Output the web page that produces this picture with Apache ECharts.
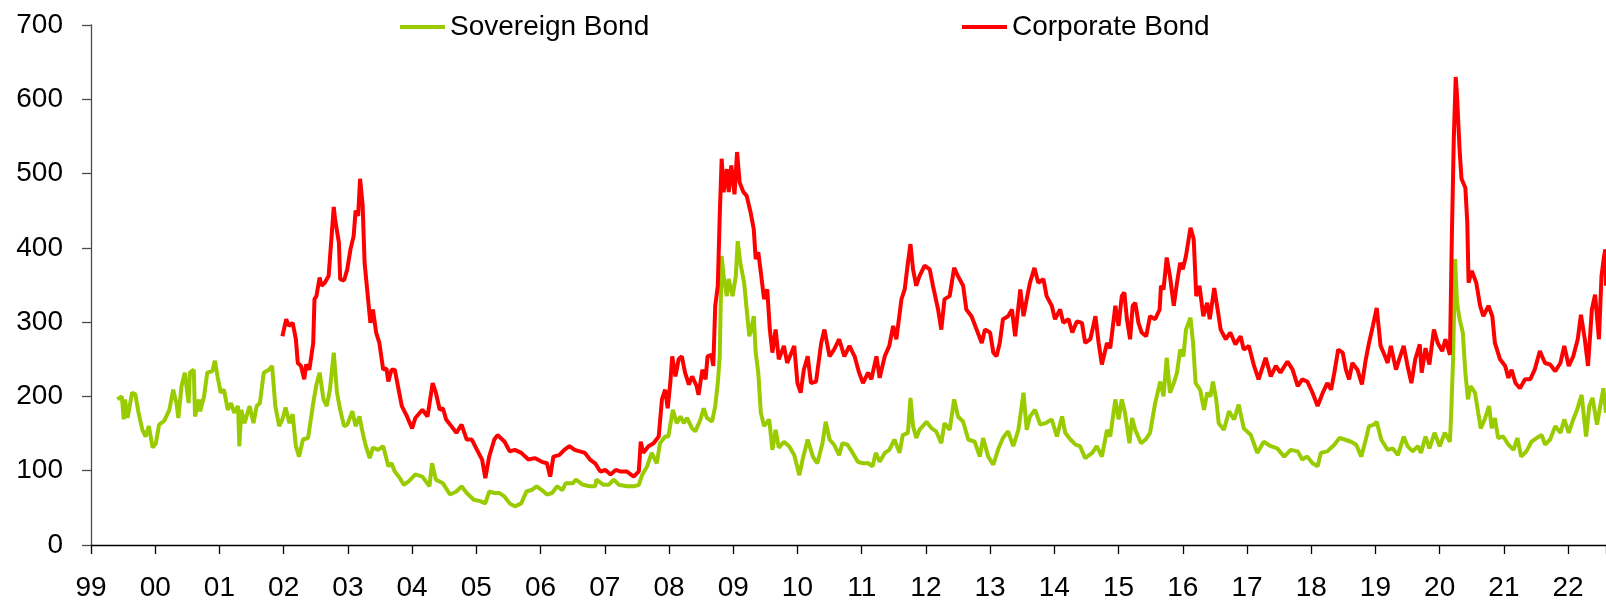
<!DOCTYPE html>
<html>
<head>
<meta charset="utf-8">
<script src="https://cdn.jsdelivr.net/npm/echarts@6/dist/echarts.min.js"></script>
<style>
  html, body { margin: 0; padding: 0; background: #fff; }
  #main { width: 1606px; height: 600px; }
</style>
</head>
<body>
<div id="main"></div>
<script>
// series names
var seriesNames = ["Sovereign Bond", "Corporate Bond"];

// [year, spread]
var sovereign = [
  [1999.41,196],[1999.48,200],[1999.51,169],[1999.53,196],[1999.57,171],[1999.64,205],[1999.69,203],[1999.74,178],
  [1999.80,155],[1999.85,146],[1999.90,160],[1999.96,131],[2000.01,137],[2000.06,162],[2000.14,167],[2000.22,182],
  [2000.28,209],[2000.33,191],[2000.36,171],[2000.41,214],[2000.46,232],[2000.52,191],[2000.54,232],[2000.60,236],
  [2000.62,173],[2000.68,196],[2000.70,180],[2000.76,200],[2000.81,232],[2000.89,234],[2000.93,248],[2000.97,227],
  [2001.02,205],[2001.07,209],[2001.13,182],[2001.18,191],[2001.23,178],[2001.29,187],[2001.31,133],[2001.34,182],
  [2001.39,164],[2001.47,187],[2001.53,164],[2001.58,187],[2001.63,191],[2001.69,232],[2001.77,236],[2001.82,241],
  [2001.87,187],[2001.93,160],[2001.98,169],[2002.03,185],[2002.09,164],[2002.14,176],[2002.19,133],[2002.24,119],
  [2002.30,142],[2002.38,144],[2002.46,191],[2002.51,216],[2002.56,232],[2002.62,196],[2002.67,187],[2002.72,209],
  [2002.78,259],[2002.83,205],[2002.88,182],[2002.94,160],[2002.99,162],[2003.07,180],[2003.12,160],[2003.18,173],
  [2003.23,151],[2003.28,133],[2003.34,117],[2003.39,131],[2003.47,128],[2003.55,133],[2003.63,106],[2003.68,110],
  [2003.73,99],[2003.81,90],[2003.87,81],[2003.95,86],[2004.05,95],[2004.16,92],[2004.27,79],[2004.31,110],
  [2004.37,88],[2004.48,83],[2004.59,68],[2004.69,72],[2004.77,79],[2004.85,70],[2004.96,61],[2005.06,59],
  [2005.14,56],[2005.20,72],[2005.28,70],[2005.36,70],[2005.44,65],[2005.52,56],[2005.60,52],[2005.70,56],
  [2005.78,72],[2005.86,74],[2005.94,79],[2006.02,74],[2006.10,68],[2006.18,70],[2006.26,79],[2006.34,74],
  [2006.39,83],[2006.50,83],[2006.55,88],[2006.66,81],[2006.77,79],[2006.85,79],[2006.87,88],[2006.98,81],
  [2007.06,81],[2007.14,88],[2007.22,81],[2007.34,79],[2007.45,79],[2007.53,81],[2007.58,94],[2007.66,106],
  [2007.73,124],[2007.81,110],[2007.86,137],[2007.94,146],[2007.99,146],[2008.06,182],[2008.12,164],[2008.18,173],
  [2008.23,164],[2008.28,171],[2008.36,157],[2008.41,153],[2008.49,169],[2008.54,184],[2008.59,171],[2008.67,166],
  [2008.72,187],[2008.76,218],[2008.79,254],[2008.82,389],[2008.85,362],[2008.90,335],[2008.93,358],[2008.99,335],
  [2009.04,362],[2009.07,409],[2009.11,380],[2009.17,353],[2009.21,317],[2009.25,281],[2009.28,290],[2009.32,308],
  [2009.35,259],[2009.39,232],[2009.43,178],[2009.48,160],[2009.56,169],[2009.61,128],[2009.66,155],[2009.71,131],
  [2009.79,139],[2009.87,133],[2009.95,121],[2010.03,94],[2010.08,115],[2010.16,142],[2010.24,119],[2010.31,110],
  [2010.39,137],[2010.44,166],[2010.50,142],[2010.57,135],[2010.65,121],[2010.70,137],[2010.78,135],[2010.86,124],
  [2010.94,112],[2011.02,110],[2011.10,110],[2011.17,106],[2011.22,124],[2011.28,112],[2011.36,124],[2011.43,128],
  [2011.51,142],[2011.59,124],[2011.64,148],[2011.72,151],[2011.76,198],[2011.80,160],[2011.85,144],[2011.90,155],
  [2012.01,166],[2012.09,157],[2012.16,153],[2012.24,137],[2012.29,164],[2012.37,155],[2012.44,196],[2012.50,173],
  [2012.58,166],[2012.66,142],[2012.76,139],[2012.84,119],[2012.89,144],[2012.97,119],[2013.05,108],[2013.13,130],
  [2013.20,144],[2013.28,153],[2013.36,133],[2013.44,155],[2013.52,205],[2013.57,155],[2013.62,173],[2013.70,182],
  [2013.78,162],[2013.86,164],[2013.96,169],[2014.04,146],[2014.12,173],[2014.17,151],[2014.25,142],[2014.33,135],
  [2014.40,133],[2014.48,117],[2014.59,124],[2014.66,133],[2014.74,119],[2014.82,155],[2014.87,146],[2014.95,196],
  [2015.00,169],[2015.05,196],[2015.10,178],[2015.17,137],[2015.21,171],[2015.26,155],[2015.35,137],[2015.42,142],
  [2015.49,151],[2015.57,191],[2015.65,220],[2015.70,200],[2015.75,252],[2015.80,205],[2015.86,218],[2015.91,232],
  [2015.96,263],[2016.01,254],[2016.05,290],[2016.12,306],[2016.16,272],[2016.20,218],[2016.27,209],[2016.33,182],
  [2016.38,205],[2016.43,200],[2016.47,220],[2016.52,196],[2016.56,164],[2016.64,155],[2016.72,180],[2016.80,169],
  [2016.87,189],[2016.95,157],[2017.06,148],[2017.16,124],[2017.26,139],[2017.37,133],[2017.47,130],[2017.58,119],
  [2017.68,128],[2017.79,126],[2017.86,115],[2017.94,119],[2018.02,110],[2018.10,106],[2018.15,124],[2018.25,126],
  [2018.36,135],[2018.44,144],[2018.52,142],[2018.62,139],[2018.70,135],[2018.78,119],[2018.85,142],[2018.90,160],
  [2018.98,162],[2019.02,166],[2019.09,142],[2019.19,128],[2019.27,130],[2019.35,121],[2019.44,146],[2019.50,133],
  [2019.58,126],[2019.66,133],[2019.71,124],[2019.78,146],[2019.84,130],[2019.92,151],[2020.00,133],[2020.08,151],
  [2020.16,139],[2020.18,178],[2020.21,254],[2020.24,385],[2020.27,326],[2020.31,304],[2020.36,286],[2020.40,232],
  [2020.44,196],[2020.48,214],[2020.55,205],[2020.60,178],[2020.64,157],[2020.70,169],[2020.77,187],[2020.81,157],
  [2020.86,171],[2020.91,144],[2020.99,146],[2021.07,135],[2021.15,128],[2021.21,144],[2021.27,119],[2021.35,126],
  [2021.43,139],[2021.51,144],[2021.59,148],[2021.64,135],[2021.72,142],[2021.80,160],[2021.88,151],[2021.94,169],
  [2022.01,151],[2022.08,169],[2022.14,182],[2022.21,202],[2022.28,146],[2022.33,187],[2022.38,198],[2022.45,162],
  [2022.50,187],[2022.55,211],[2022.59,178]
];

var corporate = [
  [2001.98,281],[2002.01,283],[2002.04,304],[2002.08,295],[2002.14,299],[2002.19,277],[2002.22,245],[2002.27,241],
  [2002.32,223],[2002.35,243],[2002.40,236],[2002.46,272],[2002.48,331],[2002.51,335],[2002.56,360],[2002.59,349],
  [2002.64,353],[2002.70,362],[2002.72,385],[2002.78,455],[2002.80,439],[2002.86,407],[2002.88,358],[2002.94,356],
  [2002.99,371],[2003.04,398],[2003.09,416],[2003.12,450],[2003.16,443],[2003.19,493],[2003.23,457],[2003.26,380],
  [2003.31,335],[2003.35,299],[2003.39,317],[2003.44,286],[2003.49,272],[2003.55,236],[2003.60,238],[2003.63,220],
  [2003.68,236],[2003.73,236],[2003.79,209],[2003.84,187],[2003.92,173],[2004.00,157],[2004.05,171],[2004.16,182],
  [2004.24,173],[2004.32,218],[2004.37,205],[2004.43,182],[2004.48,184],[2004.53,169],[2004.61,160],[2004.69,151],
  [2004.77,162],[2004.85,142],[2004.93,142],[2005.01,128],[2005.09,115],[2005.14,90],[2005.20,119],[2005.28,142],
  [2005.33,148],[2005.44,139],[2005.52,126],[2005.60,128],[2005.70,124],[2005.81,115],[2005.91,117],[2006.02,112],
  [2006.10,110],[2006.15,92],[2006.20,119],[2006.29,121],[2006.37,128],[2006.45,133],[2006.53,128],[2006.61,126],
  [2006.69,124],[2006.77,115],[2006.85,110],[2006.93,99],[2007.01,101],[2007.09,95],[2007.17,101],[2007.24,99],
  [2007.34,99],[2007.45,92],[2007.53,99],[2007.56,139],[2007.60,124],[2007.68,133],[2007.76,137],[2007.84,146],
  [2007.89,196],[2007.94,209],[2007.98,184],[2008.02,218],[2008.05,254],[2008.10,227],[2008.15,250],[2008.20,254],
  [2008.25,232],[2008.31,216],[2008.36,227],[2008.43,214],[2008.46,202],[2008.52,236],[2008.57,223],[2008.60,254],
  [2008.66,256],[2008.69,241],[2008.72,322],[2008.76,349],[2008.79,443],[2008.82,520],[2008.85,475],[2008.90,506],
  [2008.93,475],[2008.97,511],[2009.02,472],[2009.06,529],[2009.10,488],[2009.16,475],[2009.21,470],[2009.27,448],
  [2009.32,425],[2009.35,385],[2009.39,394],[2009.43,367],[2009.48,331],[2009.53,344],[2009.57,290],[2009.61,259],
  [2009.66,290],[2009.71,250],[2009.79,268],[2009.84,245],[2009.95,268],[2010.00,218],[2010.05,205],[2010.10,236],
  [2010.16,254],[2010.21,218],[2010.29,220],[2010.37,272],[2010.42,290],[2010.50,254],[2010.57,263],[2010.65,277],
  [2010.73,254],[2010.81,268],[2010.89,254],[2010.96,232],[2011.02,218],[2011.10,232],[2011.15,223],[2011.23,254],
  [2011.28,225],[2011.36,254],[2011.43,268],[2011.49,295],[2011.54,277],[2011.62,331],[2011.67,344],[2011.72,380],
  [2011.76,405],[2011.80,371],[2011.85,349],[2011.90,362],[2011.98,376],[2012.06,371],[2012.11,349],[2012.19,317],
  [2012.24,290],[2012.29,331],[2012.37,335],[2012.44,373],[2012.50,362],[2012.58,349],[2012.63,317],[2012.71,308],
  [2012.79,290],[2012.87,272],[2012.92,290],[2013.00,286],[2013.05,259],[2013.10,254],[2013.15,272],[2013.20,304],
  [2013.28,308],[2013.34,317],[2013.39,281],[2013.47,344],[2013.52,308],[2013.57,331],[2013.62,353],[2013.69,373],
  [2013.75,353],[2013.83,358],[2013.88,335],[2013.96,322],[2014.01,304],[2014.09,317],[2014.14,299],[2014.22,304],
  [2014.28,286],[2014.35,301],[2014.43,299],[2014.48,272],[2014.56,277],[2014.64,308],[2014.69,272],[2014.74,243],
  [2014.82,272],[2014.87,265],[2014.95,322],[2015.00,295],[2015.05,335],[2015.09,340],[2015.13,304],[2015.18,277],
  [2015.22,322],[2015.26,326],[2015.31,299],[2015.36,286],[2015.43,281],[2015.49,308],[2015.57,304],[2015.64,317],
  [2015.66,349],[2015.70,344],[2015.75,387],[2015.80,362],[2015.86,322],[2015.91,353],[2015.96,380],[2016.00,371],
  [2016.05,389],[2016.12,427],[2016.17,412],[2016.21,335],[2016.26,349],[2016.32,308],[2016.38,326],[2016.42,304],
  [2016.49,346],[2016.55,313],[2016.59,290],[2016.67,277],[2016.74,286],[2016.82,270],[2016.90,281],[2016.95,263],
  [2017.03,268],[2017.11,241],[2017.18,223],[2017.29,252],[2017.37,227],[2017.45,241],[2017.52,232],[2017.63,247],
  [2017.71,236],[2017.79,214],[2017.86,223],[2017.94,220],[2018.02,205],[2018.10,187],[2018.18,205],[2018.25,218],
  [2018.31,209],[2018.36,232],[2018.42,263],[2018.49,259],[2018.54,236],[2018.59,223],[2018.64,245],[2018.72,236],
  [2018.79,216],[2018.85,250],[2018.90,272],[2018.96,295],[2019.02,319],[2019.08,268],[2019.14,256],[2019.19,245],
  [2019.24,268],[2019.32,236],[2019.37,250],[2019.44,268],[2019.50,241],[2019.56,218],[2019.62,250],[2019.69,270],
  [2019.72,232],[2019.78,265],[2019.84,243],[2019.91,290],[2019.97,272],[2020.04,261],[2020.09,277],[2020.16,256],
  [2020.19,416],[2020.22,547],[2020.25,630],[2020.27,605],[2020.31,533],[2020.34,493],[2020.40,481],[2020.43,434],
  [2020.45,353],[2020.50,369],[2020.57,353],[2020.63,322],[2020.68,308],[2020.76,322],[2020.82,308],[2020.86,272],
  [2020.94,250],[2021.02,241],[2021.07,225],[2021.12,236],[2021.18,218],[2021.25,211],[2021.33,223],[2021.41,223],
  [2021.48,236],[2021.56,261],[2021.64,245],[2021.72,243],[2021.80,234],[2021.88,245],[2021.94,268],[2022.01,241],
  [2022.08,254],[2022.15,277],[2022.20,310],[2022.26,277],[2022.31,241],[2022.37,317],[2022.42,337],[2022.48,277],
  [2022.52,362],[2022.56,389],[2022.58,398],[2022.59,349]
];

// axis settings
var yearStart = 1999;
var yearEnd = 2022.59;
var yMin = 0, yMax = 700, yStep = 100;

var chart = echarts.init(document.getElementById("main"));

var font = "'Liberation Sans', Arial, sans-serif";

function yearLabel(v) {
  if (Math.abs(v - Math.round(v)) > 1e-6) return "";
  var yy = Math.round(v) % 100;
  return (yy < 10 ? "0" : "") + yy;
}

var legendBase = {
  top: 8,
  itemWidth: 45,
  itemHeight: 4,
  icon: "rect",
  textStyle: { fontFamily: font, fontSize: 28, color: "#000" },
  selectedMode: false
};

var option = {
  animation: false,
  backgroundColor: "#fff",
  legend: [
    Object.assign({}, legendBase, { data: [seriesNames[0]], left: 395 }),
    Object.assign({}, legendBase, { data: [seriesNames[1]], left: 957 })
  ],
  grid: {
    left: 91,
    right: 0,
    top: 25,
    bottom: 55,
    containLabel: false,
    outerBoundsMode: "none"
  },
  xAxis: {
    type: "value",
    min: yearStart,
    max: yearEnd,
    interval: 1,
    splitLine: { show: false },
    axisLine: { lineStyle: { color: "#000", width: 1.3 } },
    axisTick: { inside: false, length: 9, lineStyle: { color: "#000", width: 1.3 } },
    axisLabel: {
      formatter: yearLabel,
      fontFamily: font,
      fontSize: 28,
      color: "#000",
      margin: 29
    }
  },
  yAxis: {
    type: "value",
    min: yMin,
    max: yMax,
    interval: yStep,
    splitLine: { show: false },
    axisLine: { show: true, lineStyle: { color: "#4d4d4d", width: 1.3 } },
    axisTick: { show: true, inside: false, length: 9, lineStyle: { color: "#4d4d4d", width: 1.3 } },
    axisLabel: {
      fontFamily: font,
      fontSize: 28,
      color: "#000",
      margin: 28
    }
  },
  series: [
    {
      name: seriesNames[0],
      type: "line",
      data: sovereign,
      symbol: "none",
      showSymbol: false,
      color: "#99cc00",
      lineStyle: { color: "#99cc00", width: 4 },
      z: 2
    },
    {
      name: seriesNames[1],
      type: "line",
      data: corporate,
      symbol: "none",
      showSymbol: false,
      color: "#ff0000",
      lineStyle: { color: "#ff0000", width: 4 },
      z: 3
    }
  ]
};

chart.setOption(option);
</script>
</body>
</html>
